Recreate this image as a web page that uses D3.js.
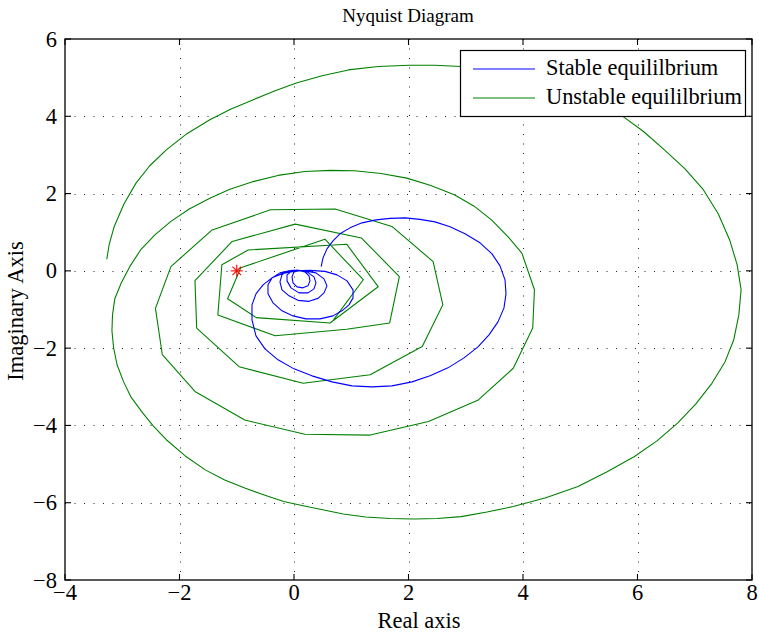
<!DOCTYPE html>
<html><head><meta charset="utf-8">
<script src="https://cdn.jsdelivr.net/npm/d3@7"></script>
<style>body{margin:0;background:#fff;} svg text{font-family:"Liberation Serif","Times New Roman",serif;fill:#000;}</style>
</head><body><svg id="c" width="759" height="634"></svg>
<script>
const xTicks = [-4,-2,0,2,4,6,8];
const yTicks = [-8,-6,-4,-2,0,2,4,6];
const seriesNames = ["Stable equililbrium","Unstable equililbrium"];
const titleText = "Nyquist Diagram";
const xLabel = "Real axis";
const yLabel = "Imaginary Axis";

const stablePts = [[0.475,0.111],[0.507,0.336],[0.576,0.569],[0.681,0.776],[0.803,0.958],[0.978,1.113],[1.188,1.242],[1.432,1.320],[1.677,1.359],[1.939,1.372],[2.201,1.333],[2.463,1.268],[2.725,1.139],[2.987,0.958],[3.249,0.725],[3.459,0.440],[3.598,0.129],[3.686,-0.233],[3.703,-0.595],[3.668,-0.958],[3.563,-1.320],[3.406,-1.656],[3.214,-1.967],[2.969,-2.252],[2.690,-2.510],[2.376,-2.717],[2.061,-2.873],[1.712,-2.976],[1.362,-3.002],[1.013,-2.976],[0.664,-2.873],[0.314,-2.717],[0.000,-2.536],[-0.279,-2.303],[-0.507,-2.019],[-0.664,-1.682],[-0.734,-1.268],[-0.734,-0.880],[-0.664,-0.595],[-0.541,-0.362],[-0.384,-0.181],[-0.192,-0.065],[0.035,0.000],[0.279,0.013],[0.541,-0.013],[0.751,-0.104],[0.926,-0.259],[1.031,-0.492],[1.031,-0.699],[0.961,-0.880],[0.838,-1.035],[0.681,-1.165],[0.454,-1.242],[0.210,-1.242],[-0.017,-1.165],[-0.210,-1.035],[-0.367,-0.828],[-0.454,-0.595],[-0.454,-0.362],[-0.384,-0.181],[-0.245,-0.052],[-0.035,0.013],[0.192,0.000],[0.384,-0.052],[0.524,-0.207],[0.576,-0.388],[0.524,-0.569],[0.419,-0.712],[0.262,-0.789],[0.070,-0.763],[-0.087,-0.647],[-0.210,-0.492],[-0.245,-0.285],[-0.210,-0.104],[-0.105,0.000],[0.052,0.013],[0.227,-0.026],[0.349,-0.155],[0.384,-0.311],[0.349,-0.466],[0.245,-0.569],[0.087,-0.569],[-0.052,-0.440],[-0.122,-0.259],[-0.122,-0.104],[-0.035,0.000],[0.087,0.013],[0.192,-0.026],[0.262,-0.129],[0.279,-0.259],[0.245,-0.388],[0.157,-0.440],[0.052,-0.414],[-0.017,-0.311],[-0.035,-0.155],[0.000,-0.026],[0.070,0.000]];

const unstablePts = [[-3.27,0.30],[-3.23,0.67],[-3.14,1.15],[-2.97,1.73],[-2.76,2.27],[-2.52,2.72],[-2.23,3.13],[-1.87,3.55],[-1.47,3.91],[-1.10,4.19],[-0.71,4.43],[-0.33,4.66],[0.04,4.86],[0.49,5.05],[0.95,5.20],[1.47,5.29],[2.01,5.32],[2.46,5.32],[2.92,5.29],[3.42,5.23],[3.95,5.07],[4.47,4.87],[4.99,4.53],[5.40,4.24],[5.75,3.99],[6.11,3.60],[6.47,3.13],[6.83,2.64],[7.15,2.10],[7.41,1.48],[7.61,0.80],[7.74,0.16],[7.81,-0.49],[7.77,-1.14],[7.68,-1.79],[7.53,-2.35],[7.30,-2.91],[7.02,-3.44],[6.70,-3.94],[6.34,-4.40],[5.94,-4.81],[5.47,-5.20],[4.96,-5.58],[4.40,-5.87],[3.83,-6.10],[3.37,-6.24],[2.92,-6.36],[2.50,-6.41],[2.09,-6.42],[1.68,-6.41],[1.25,-6.37],[0.86,-6.29],[0.50,-6.18],[0.16,-6.08],[-0.18,-5.97],[-0.52,-5.80],[-0.86,-5.62],[-1.21,-5.41],[-1.55,-5.15],[-1.90,-4.79],[-2.23,-4.37],[-2.46,-4.01],[-2.64,-3.68],[-2.85,-3.26],[-2.98,-2.86],[-3.09,-2.43],[-3.15,-2.00],[-3.18,-1.55],[-3.17,-1.14],[-3.13,-0.72],[-3.02,-0.32],[-2.86,0.13],[-2.68,0.54],[-2.43,0.93],[-2.15,1.28],[-1.83,1.60],[-1.47,1.88],[-1.12,2.11],[-0.71,2.31],[-0.28,2.47],[0.19,2.57],[0.63,2.60],[1.06,2.59],[1.52,2.52],[1.97,2.40],[2.39,2.21],[2.80,1.97],[3.14,1.68],[3.45,1.32],[3.74,0.88],[3.98,0.46],[4.20,-0.49],[4.17,-1.48],[3.83,-2.52],[3.22,-3.34],[2.35,-3.90],[1.33,-4.25],[0.19,-4.23],[-0.86,-3.86],[-1.73,-3.12],[-2.30,-2.17],[-2.42,-0.97],[-2.15,0.11],[-1.43,1.06],[-0.41,1.58],[0.72,1.60],[1.71,1.15],[2.43,0.24],[2.60,-0.88],[2.24,-1.96],[1.33,-2.69],[0.16,-2.91],[-0.96,-2.48],[-1.70,-1.48],[-1.73,-0.25],[-1.08,0.76],[0.02,1.21],[1.18,0.85],[1.84,-0.15],[1.67,-1.35],[0.92,-1.51],[-0.33,-1.68],[-1.33,-1.14],[-1.26,0.16],[-0.80,0.54],[0.92,0.69],[1.47,-0.41],[0.63,-1.35],[-0.66,-1.21],[-1.16,-0.72],[-0.93,0.08],[0.54,0.82],[1.21,-0.23],[0.69,-1.27]];

const criticalPoint = [[-1,0]];

const m = {left:65, right:752, top:39, bottom:580};
const x = d3.scaleLinear().domain([-4,8]).range([m.left,m.right]);
const y = d3.scaleLinear().domain([-8,6]).range([m.bottom,m.top]);
const svg = d3.select("#c");
const fsTick = 22.5, fsLabel = 22.5, fsTitle = 19, fsLegend = 22.4;

// grid
const grid = svg.append("g").attr("stroke","#222").attr("stroke-width",1).attr("stroke-dasharray","1,8.5");
grid.selectAll(".gx").data(xTicks.slice(1,-1)).join("line")
  .attr("x1",d=>Math.round(x(d))+0.5).attr("x2",d=>Math.round(x(d))+0.5).attr("y1",m.top).attr("y2",m.bottom);
grid.selectAll(".gy").data(yTicks.slice(1,-1)).join("line")
  .attr("y1",d=>Math.round(y(d))+0.5).attr("y2",d=>Math.round(y(d))+0.5).attr("x1",m.left).attr("x2",m.right);

svg.append("clipPath").attr("id","pc").append("rect").attr("x",m.left).attr("y",m.top).attr("width",m.right-m.left).attr("height",m.bottom-m.top);

const line = d3.line().x(d=>x(d[0])).y(d=>y(d[1]));
const plot = svg.append("g").attr("clip-path","url(#pc)");
plot.append("path").datum(unstablePts).attr("d",line).attr("fill","none").attr("stroke","#008000").attr("stroke-width",1.1).attr("stroke-linejoin","round");
plot.append("path").datum(stablePts).attr("d",line).attr("fill","none").attr("stroke","#0000ff").attr("stroke-width",1.1).attr("stroke-linejoin","round");

const star = plot.selectAll(".star").data(criticalPoint).join("g").attr("transform",d=>`translate(${x(d[0])},${y(d[1])})`)
  .attr("stroke","#ff0000").attr("stroke-width",1.1);
const r = 6;
[[-r,0,r,0],[0,-r,0,r],[-r*0.72,-r*0.72,r*0.72,r*0.72],[-r*0.72,r*0.72,r*0.72,-r*0.72]].forEach(s=>{
  star.append("line").attr("x1",s[0]).attr("y1",s[1]).attr("x2",s[2]).attr("y2",s[3]);
});

const ax = svg.append("g").attr("stroke","#000");
ax.append("rect").attr("x",m.left).attr("y",m.top).attr("width",m.right-m.left).attr("height",m.bottom-m.top).attr("fill","none").attr("stroke-width",1.3);
const tl = 6;
xTicks.forEach(t=>{
  const px = x(t);
  ax.append("line").attr("x1",px).attr("x2",px).attr("y1",m.bottom).attr("y2",m.bottom-tl).attr("stroke-width",1.1);
  ax.append("line").attr("x1",px).attr("x2",px).attr("y1",m.top).attr("y2",m.top+tl).attr("stroke-width",1.1);
});
yTicks.forEach(t=>{
  const py = y(t);
  ax.append("line").attr("y1",py).attr("y2",py).attr("x1",m.left).attr("x2",m.left+tl).attr("stroke-width",1.1);
  ax.append("line").attr("y1",py).attr("y2",py).attr("x1",m.right).attr("x2",m.right-tl).attr("stroke-width",1.1);
});
const fmt = d => d<0 ? "\u2212"+Math.abs(d) : String(d);
svg.selectAll(".xt").data(xTicks).join("text").attr("x",d=>x(d)).attr("y",600).attr("text-anchor","middle").attr("font-size",fsTick).text(fmt);
svg.selectAll(".yt").data(yTicks).join("text").attr("x",57).attr("y",d=>y(d)+7.5).attr("text-anchor","end").attr("font-size",fsTick).text(fmt);

svg.append("text").attr("x",408).attr("y",22).attr("text-anchor","middle").attr("font-size",fsTitle).text(titleText);
svg.append("text").attr("x",419).attr("y",628).attr("text-anchor","middle").attr("font-size",fsLabel).text(xLabel);
svg.append("text").attr("transform",`translate(23,311) rotate(-90)`).attr("text-anchor","middle").attr("font-size",fsLabel).text(yLabel);

const lg = svg.append("g");
lg.append("rect").attr("x",460.5).attr("y",50.5).attr("width",285).attr("height",66).attr("fill","#fff").attr("stroke","#000").attr("stroke-width",1.2);
const colors = ["#0000ff","#008000"];
seriesNames.forEach((n,i)=>{
  const yy = 69 + i*29;
  lg.append("line").attr("x1",473).attr("x2",535).attr("y1",yy).attr("y2",yy).attr("stroke",colors[i]).attr("stroke-width",1.1);
  lg.append("text").attr("x",546).attr("y",yy+6).attr("font-size",fsLegend).text(n);
});
</script></body></html>
